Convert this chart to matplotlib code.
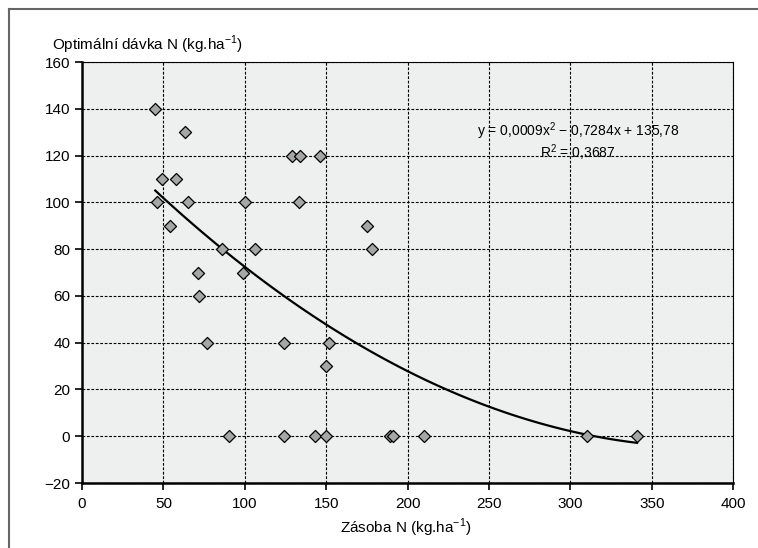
import numpy as np
import matplotlib.pyplot as plt
from matplotlib.lines import Line2D

# Zásoba N (kg/ha) a optimální dávka N (kg/ha)
zasoba = [45, 46, 49, 54, 58, 63, 65, 71, 72, 77, 86, 90, 99, 100, 106,
          124, 124, 129, 133, 134, 143, 146, 150, 150, 152, 175, 178,
          189, 191, 210, 310, 341]
davka = [140, 100, 110, 90, 110, 130, 100, 70, 60, 40, 80, 0, 70, 100, 80,
         40, 0, 120, 100, 120, 0, 120, 30, 0, 40, 90, 80,
         0, 0, 0, 0, 0]

x_ticks = [0, 50, 100, 150, 200, 250, 300, 350, 400]
y_ticks = [-20, 0, 20, 40, 60, 80, 100, 120, 140, 160]

plt.rcParams['font.family'] = ['Liberation Sans Narrow', 'Liberation Sans', 'DejaVu Sans']
plt.rcParams['mathtext.fontset'] = 'custom'
plt.rcParams['mathtext.rm'] = 'Liberation Sans'

fig = plt.figure(figsize=(7.58, 5.48), dpi=100)
ax = fig.add_axes([0.1082, 0.1186, 0.859, 0.768])
ax.set_facecolor('#eeefef')

# polynomiální trend 2. stupně
coef = np.polyfit(zasoba, davka, 2)
xs = np.linspace(min(zasoba), max(zasoba), 100)
ax.plot(xs, np.polyval(coef, xs), color='black', lw=1.6, zorder=3)

ax.scatter(zasoba, davka, marker='D', s=38, facecolor='#a6a6a6',
           edgecolor='black', linewidth=0.9, zorder=4)

ax.set_xlim(0, 400)
ax.set_ylim(-20, 160)
ax.set_xticks(x_ticks)
ax.set_yticks(y_ticks)
ax.grid(True, color='black', linestyle=(0, (2.5, 1.5)), linewidth=0.8)
ax.set_axisbelow(True)
ax.tick_params(labelsize=11, length=5, width=1.2, color='black')
ax.tick_params(axis='x', pad=5)
for side in ['top', 'right']:
    ax.spines[side].set_linewidth(0.8)
for side in ['left', 'bottom']:
    ax.spines[side].set_linewidth(1.8)

fig.text(0.069, 0.909, 'Optimální dávka N (kg.ha$^{-1}$)', fontsize=11,
         ha='left', va='baseline')
fig.text(0.535, 0.027, 'Zásoba N (kg.ha$^{-1}$)', fontsize=11,
         ha='center', va='baseline')

ax.text(0.762, 0.836, 'y = 0,0009x$^{2}$ $-$ 0,7284x + 135,78', transform=ax.transAxes,
        fontsize=10, ha='center', va='center')
ax.text(0.762, 0.786, 'R$^{2}$ = 0,3687', transform=ax.transAxes,
        fontsize=10, ha='center', va='center')

# rámeček kolem obrázku
fig.add_artist(Line2D([0.012, 1.0], [0.983, 0.983], color='#666666', lw=1.5))
fig.add_artist(Line2D([0.012, 0.012], [0.0, 0.983], color='#666666', lw=1.5))

fig.savefig('out.png', dpi=100)
